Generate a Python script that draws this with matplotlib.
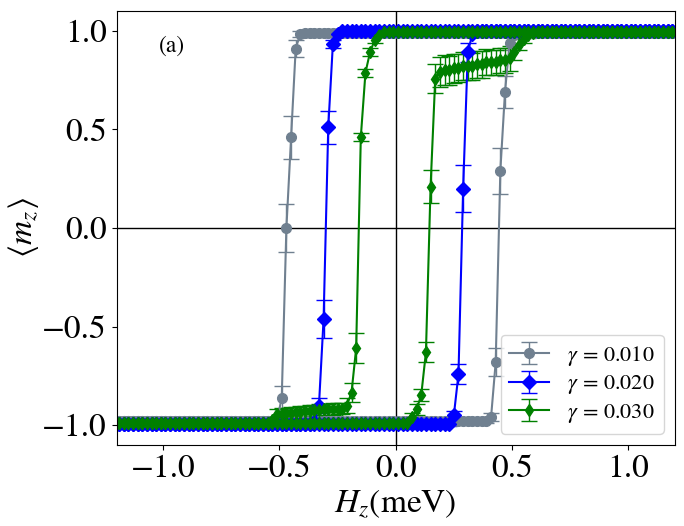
import matplotlib
matplotlib.use("Agg")
import matplotlib.pyplot as plt
import numpy as np

plt.rcParams['font.family'] = ['STIXGeneral', 'DejaVu Serif']
plt.rcParams['mathtext.fontset'] = 'stix'

# field grid (meV), sweep points
H = [round(-1.21 + 0.02 * k, 2) for k in range(122)]

gammas = ["0.010", "0.020", "0.030"]

# gamma = 0.010 : forward (increasing H) and backward (decreasing H) branches, listed in increasing-H order
m_g1_up = [-0.98] * 81 + [-0.96, -0.68, 0.29, 0.69, 0.94, 0.98] + [0.99] * 35
e_g1_up = [0.01] * 81 + [0.02, 0.07, 0.116, 0.08, 0.04, 0.015] + [0.01] * 35
m_g1_dn = [-0.98] * 35 + [-0.975, -0.86, 0.0, 0.46, 0.91, 0.985] + [0.99] * 81
e_g1_dn = [0.01] * 35 + [0.015, 0.06, 0.12, 0.11, 0.045, 0.015] + [0.01] * 81

# gamma = 0.020
m_g2_up = [-0.995] * 73 + [-0.95, -0.74, 0.20, 0.89, 0.985] + [1.0] * 44
e_g2_up = [0.008] * 73 + [0.02, 0.05, 0.118, 0.05, 0.015] + [0.008] * 44
m_g2_dn = [-0.995] * 43 + [-0.985, -0.90, -0.46, 0.51, 0.935, 0.985] + [1.0] * 73
e_g2_dn = [0.008] * 43 + [0.015, 0.04, 0.096, 0.085, 0.02, 0.015] + [0.008] * 73

# gamma = 0.030
m_g3_up = ([-0.99] * 64 + [-0.96, -0.92, -0.845, -0.63, 0.21, 0.757]
           + [0.79, 0.80, 0.80, 0.81, 0.81, 0.82, 0.82, 0.82, 0.83, 0.83, 0.84, 0.84, 0.84, 0.85, 0.85, 0.86]
           + [0.89, 0.93, 0.96, 0.98, 0.99] + [0.995] * 31)
e_g3_up = ([0.01] * 64 + [0.02, 0.03, 0.03, 0.05, 0.085, 0.075]
           + [0.075, 0.075, 0.074, 0.073, 0.072, 0.071, 0.070, 0.069, 0.068, 0.067, 0.066, 0.065, 0.065, 0.064, 0.063, 0.063]
           + [0.04, 0.03, 0.02, 0.015, 0.01] + [0.01] * 31)
m_g3_dn = ([-0.99] * 34 + [-0.975]
           + [-0.945, -0.943, -0.94, -0.938, -0.935, -0.933, -0.93, -0.928, -0.925, -0.923, -0.92, -0.92, -0.918, -0.915, -0.915]
           + [-0.90, -0.834, -0.61, 0.461, 0.788, 0.893, 0.953, 0.98] + [0.995] * 64)
e_g3_dn = ([0.01] * 34 + [0.015]
           + [0.03] * 15
           + [0.04, 0.05, 0.076, 0.02, 0.02, 0.02, 0.015, 0.01] + [0.01] * 64)

colors = ['slategray', 'blue', 'green']
markers = ['o', 'D', 'd']
msizes = [7, 7, 6]

series = [(m_g1_up, e_g1_up, m_g1_dn, e_g1_dn),
          (m_g2_up, e_g2_up, m_g2_dn, e_g2_dn),
          (m_g3_up, e_g3_up, m_g3_dn, e_g3_dn)]

fig = plt.figure(figsize=(6.84, 5.26), dpi=100)
ax = fig.add_axes([0.1705, 0.154, 0.816, 0.825])

ax.axhline(0, color='black', lw=1, zorder=1)
ax.axvline(0, color='black', lw=1, zorder=1)

for (mu, eu, md, ed), c, mk, ms, g in zip(series, colors, markers, msizes, gammas):
    x = list(H) + list(H[::-1])
    y = list(mu) + list(md[::-1])
    e = list(eu) + list(ed[::-1])
    ax.errorbar(x, y, yerr=e, color=c, marker=mk, markersize=ms, lw=1.5,
                elinewidth=1.0, capsize=6, capthick=1.0,
                label=r'$\gamma\,=\,%s$' % g, zorder=2)

ax.set_xlim(-1.2, 1.2)
ax.set_ylim(-1.1, 1.1)
ax.set_xticks([-1.0, -0.5, 0.0, 0.5, 1.0])
ax.set_yticks([-1.0, -0.5, 0.0, 0.5, 1.0])
ax.tick_params(labelsize=24)
ax.set_xlabel(r'$H_z$(meV)', fontsize=24, labelpad=2)
ax.set_ylabel(r'$\langle m_z \rangle$', fontsize=24, labelpad=1)
ax.text(0.1, 0.92, '(a)', transform=ax.transAxes, fontsize=17, ha='center', va='center')

ax.legend(loc='lower right', fontsize=16, handlelength=1.8, borderpad=0.4,
          labelspacing=0.25, handletextpad=0.8)

fig.savefig('out.png', dpi=100)
